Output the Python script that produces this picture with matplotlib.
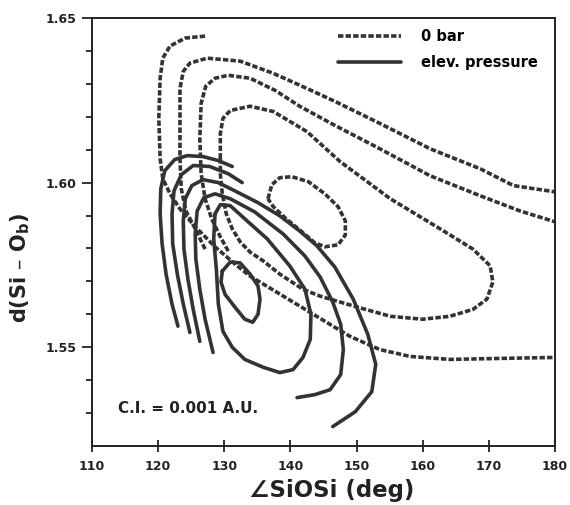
import matplotlib
matplotlib.use("Agg")
import matplotlib.pyplot as plt

plt.rcParams['font.family'] = ['DejaVu Sans']
plt.rcParams['font.weight'] = 'bold'
plt.rcParams['mathtext.fontset'] = 'dejavusans'

# ---------------- data ----------------
x_ticks = [110, 120, 130, 140, 150, 160, 170, 180]
y_ticks = [1.55, 1.60, 1.65]
y_tick_labels = ['1.55', '1.60', '1.65']
y_minor_ticks = [1.53, 1.54, 1.56, 1.57, 1.58, 1.59, 1.61, 1.62, 1.63, 1.64]

# 0 bar contours (dashed)
d1_x = [127.1, 124.1, 121.8, 120.7, 120.3, 120.1, 120.3, 120.7, 121.8, 123.3, 125.6, 128.6, 131.6,
        133.9, 137.7, 141.4, 145.2, 149.0, 153.5, 158.1, 164.1, 171.7, 180.0]
d1_y = [1.6445, 1.6439, 1.6415, 1.6378, 1.6317, 1.6195, 1.6073, 1.6012, 1.5966, 1.5920, 1.5866, 1.5805, 1.5753,
        1.5716, 1.5670, 1.5625, 1.5579, 1.5533, 1.5493, 1.5472, 1.5463, 1.5466, 1.5469]

d2_x = [127.1, 125.6, 124.2, 123.5, 123.3, 123.3, 123.3, 123.8, 124.8, 127.4, 132.4, 137.4, 141.4,
        146.7, 153.5, 161.1, 168.7, 173.7, 180.0]
d2_y = [1.5798, 1.5860, 1.5914, 1.5981, 1.6073, 1.6195, 1.6286, 1.6338, 1.6363, 1.6378, 1.6369, 1.6332, 1.6296,
        1.6247, 1.6180, 1.6103, 1.6042, 1.5991, 1.5972]

d3_x = [130.6, 129.4, 128.1, 127.1, 126.5, 126.3, 126.5, 127.2, 128.6, 130.6, 133.9, 137.7, 141.4,
        146.7, 153.5, 161.1, 168.7, 174.7, 180.0]
d3_y = [1.5792, 1.5835, 1.5890, 1.5951, 1.6027, 1.6134, 1.6241, 1.6293, 1.6317, 1.6326, 1.6317, 1.6280, 1.6232,
        1.6174, 1.6103, 1.6021, 1.5960, 1.5914, 1.5881]

d4_x = [129.4, 129.4, 129.8, 130.9, 133.9, 137.4, 142.5, 147.5, 155.1, 162.6, 167.6, 170.2, 170.6, 169.7,
        167.6, 164.1, 160.0, 155.1, 150.1, 144.5, 141.9, 138.4, 135.9, 133.9, 132.4, 131.2, 130.3, 129.7,
        129.4, 129.4]
d4_y = [1.6073, 1.6149, 1.6195, 1.6219, 1.6232, 1.6216, 1.6155, 1.6064, 1.5951, 1.5860, 1.5798, 1.5747,
        1.5698, 1.5646, 1.5615, 1.5594, 1.5585, 1.5594, 1.5622, 1.5655, 1.5676, 1.5722, 1.5762, 1.5789,
        1.5820, 1.5860, 1.5905, 1.5966, 1.6027, 1.6073]

d0_x = [136.6, 137.2, 138.4, 140.2, 142.7, 145.2, 147.2, 148.3, 148.3, 147.2, 145.2, 143.7, 141.4, 139.2,
        137.4, 136.6]
d0_y = [1.5951, 1.5994, 1.6015, 1.6018, 1.6003, 1.5966, 1.5927, 1.5884, 1.5841, 1.5811, 1.5805, 1.5817,
        1.5856, 1.5893, 1.5927, 1.5951]

# elevated pressure contours (solid)
s1_x = [123.0, 122.1, 121.2, 120.6, 120.3, 120.4, 121.0, 122.5, 124.4, 126.8, 129.1, 131.2]
s1_y = [1.5564, 1.5631, 1.5722, 1.5814, 1.5905, 1.5981, 1.6036, 1.6070, 1.6082, 1.6079, 1.6067, 1.6049]

s2_x = [124.8, 123.8, 122.9, 122.2, 122.1, 122.4, 123.5, 125.3, 127.8, 130.6, 132.7]
s2_y = [1.5545, 1.5631, 1.5722, 1.5814, 1.5905, 1.5975, 1.6024, 1.6052, 1.6049, 1.6027, 1.6000]

s3_x = [126.3, 125.3, 124.5, 123.9, 123.8, 124.1, 125.1, 126.8, 129.1, 131.6, 135.1, 138.4, 141.4, 144.0,
        146.7, 149.5, 151.7, 152.9, 152.3, 149.8, 146.4]
s3_y = [1.5518, 1.5615, 1.5707, 1.5798, 1.5884, 1.5951, 1.5991, 1.6009, 1.6000, 1.5975, 1.5939, 1.5899,
        1.5853, 1.5808, 1.5744, 1.5646, 1.5539, 1.5448, 1.5365, 1.5304, 1.5259]

s4_x = [128.3, 127.1, 126.3, 125.7, 125.6, 125.9, 126.9, 128.6, 130.9, 134.6, 138.9, 142.2, 144.5, 146.4,
        147.6, 148.0, 147.6, 146.0, 143.7, 141.0]
s4_y = [1.5484, 1.5585, 1.5676, 1.5768, 1.5844, 1.5914, 1.5954, 1.5966, 1.5951, 1.5911, 1.5844, 1.5777,
        1.5713, 1.5637, 1.5570, 1.5493, 1.5417, 1.5371, 1.5356, 1.5347]

s5_x = [128.6, 129.4, 130.9, 133.1, 136.5, 139.9, 142.2, 143.1, 143.0, 141.9, 140.4, 138.4, 135.9, 133.1,
        131.2, 129.8, 129.1, 128.8, 128.4, 128.6]
s5_y = [1.5905, 1.5933, 1.5930, 1.5890, 1.5829, 1.5747, 1.5676, 1.5600, 1.5524, 1.5469, 1.5432, 1.5423,
        1.5439, 1.5463, 1.5500, 1.5548, 1.5631, 1.5737, 1.5829, 1.5905]

s6_x = [129.7, 130.9, 132.4, 133.9, 135.1, 135.4, 135.1, 134.3, 133.1, 131.6, 130.1, 129.5, 129.7]
s6_y = [1.5731, 1.5759, 1.5756, 1.5722, 1.5686, 1.5646, 1.5600, 1.5576, 1.5585, 1.5622, 1.5661, 1.5698,
        1.5731]

dashed_curves = [(d1_x, d1_y), (d2_x, d2_y), (d3_x, d3_y), (d4_x, d4_y), (d0_x, d0_y)]
solid_curves = [(s1_x, s1_y), (s2_x, s2_y), (s3_x, s3_y), (s4_x, s4_y), (s5_x, s5_y), (s6_x, s6_y)]

legend_labels = ['0 bar', 'elev. pressure']
note_text = 'C.I. = 0.001 A.U.'

# ---------------- drawing ----------------
ink = '#333333'
fig = plt.figure(figsize=(5.7, 5.05), dpi=100)
ax = fig.add_axes([92 / 570, 1 - 446 / 505, 463 / 570, 428 / 505])

dash_handle = None
for i, (xs, ys) in enumerate(dashed_curves):
    ln, = ax.plot(xs, ys, color=ink, lw=2.6, linestyle=(0, (1.5, 0.6)),
                  dash_capstyle='butt', dash_joinstyle='round',
                  label=legend_labels[0] if i == 0 else None)
    if i == 0:
        dash_handle = ln
solid_handle = None
for i, (xs, ys) in enumerate(solid_curves):
    ln, = ax.plot(xs, ys, color=ink, lw=2.6, solid_capstyle='round', solid_joinstyle='round',
                  label=legend_labels[1] if i == 0 else None)
    if i == 0:
        solid_handle = ln

ax.set_xlim(110, 180)
ax.set_ylim(1.52, 1.65)
ax.set_xticks(x_ticks)
ax.set_xticklabels([str(v) for v in x_ticks], fontsize=9, fontweight='bold')
ax.set_yticks(y_ticks)
ax.set_yticklabels(y_tick_labels, fontsize=9, fontweight='bold')
ax.set_yticks(y_minor_ticks, minor=True)
ax.tick_params(axis='x', direction='inout', length=8, width=1.3, pad=6, colors='#222222')
ax.tick_params(axis='y', which='major', direction='out', length=7, width=1.3, pad=4, colors='#222222')
ax.tick_params(axis='y', which='minor', direction='out', length=4, width=1.3, colors='#222222')
for s in ax.spines.values():
    s.set_linewidth(1.4)
    s.set_color('#222222')

ax.set_xlabel('\u2220SiOSi (deg)', fontsize=16.5, fontweight='bold', color='#222222')
ax.xaxis.set_label_coords(0.518, -0.078)
ax.set_ylabel(r'd(Si – O$_\mathbf{b}$)', fontsize=15, fontweight='bold', color='#222222')
ax.yaxis.set_label_coords(-0.13, 0.416)

ax.text(113.9, 1.5314, note_text, fontsize=11, fontweight='bold', color='#222222',
        ha='left', va='center')

ax.legend(handles=[dash_handle, solid_handle], loc='upper left', bbox_to_anchor=(0.531, 0.975),
          frameon=False, handlelength=4.3, handletextpad=1.4, labelspacing=0.75,
          borderpad=0, borderaxespad=0, prop={'weight': 'bold', 'size': 10.5})

fig.savefig('out.png', dpi=100, facecolor='white')
